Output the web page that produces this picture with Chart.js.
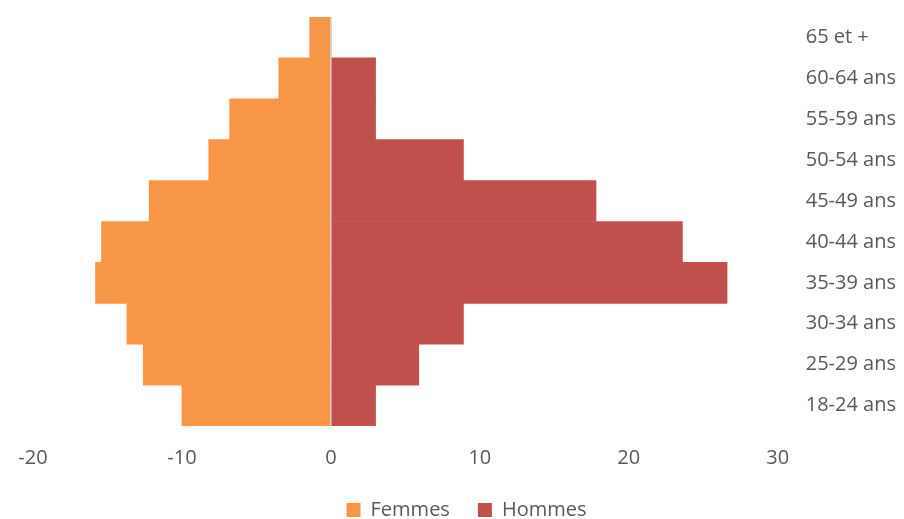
<!DOCTYPE html>
<html>
<head>
<meta charset="utf-8">
<script src="https://cdn.jsdelivr.net/npm/chart.js@4"></script>
<style>
  html, body { margin: 0; padding: 0; background: #fff; }
  #wrap { width: 904px; height: 519px; }
</style>
</head>
<body>
<div id="wrap"><canvas id="chartPyramide"></canvas></div>
<script>
const ageGroups = ["65 et +", "60-64 ans", "55-59 ans", "50-54 ans", "45-49 ans",
  "40-44 ans", "35-39 ans", "30-34 ans", "25-29 ans", "18-24 ans"];
const femmes = [-1.4, -3.5, -6.8, -8.2, -12.2, -15.4, -15.8, -13.7, -12.6, -10.0];
const hommes = [0, 3.0, 3.0, 8.9, 17.8, 23.6, 26.6, 8.9, 5.9, 3.0];
const xTicks = [-20, -10, 0, 10, 20, 30];

const textColor = "#595959";
const fontFamily = "'Open Sans', sans-serif";

new Chart(document.getElementById("chartPyramide"), {
  type: "bar",
  data: {
    labels: ageGroups,
    datasets: [
      {
        label: "Femmes",
        data: femmes,
        backgroundColor: "#F79646",
        borderWidth: 0,
      },
      {
        label: "Hommes",
        data: hommes,
        backgroundColor: "#C0504D",
        borderWidth: 0,
      },
    ],
  },
  options: {
    indexAxis: "y",
    responsive: true,
    maintainAspectRatio: false,
    animation: false,
    datasets: {
      bar: { barPercentage: 1, categoryPercentage: 1 },
    },
    // negative bottom padding pulls the legend down close to the edge
    layout: { padding: { top: 17, left: 33, right: 4, bottom: -11 } },
    scales: {
      x: {
        stacked: true,
        min: -20,
        max: 30,
        z: 1,
        afterBuildTicks: (axis) => {
          axis.ticks = xTicks.map((v) => ({ value: v }));
        },
        border: { display: false },
        grid: {
          color: (ctx) => (ctx.tick && ctx.tick.value === 0 ? "#d9d9d9" : "rgba(0,0,0,0)"),
          lineWidth: 2,
          drawTicks: true,
          tickLength: 18,
          tickColor: "rgba(0,0,0,0)",
        },
        ticks: {
          color: textColor,
          padding: 2,
          font: { family: fontFamily, size: 20 },
        },
      },
      y: {
        stacked: true,
        position: "right",
        border: { display: false },
        grid: {
          display: true,
          drawOnChartArea: false,
          drawTicks: true,
          tickLength: 24,
          color: "rgba(0,0,0,0)",
        },
        ticks: {
          color: textColor,
          padding: 4,
          font: { family: fontFamily, size: 20 },
        },
      },
    },
    plugins: {
      legend: {
        position: "bottom",
        labels: {
          color: textColor,
          boxWidth: 14,
          boxHeight: 14,
          padding: 28,
          font: { family: fontFamily, size: 20 },
        },
      },
      tooltip: { enabled: false },
    },
  },
});
</script>
</body>
</html>
